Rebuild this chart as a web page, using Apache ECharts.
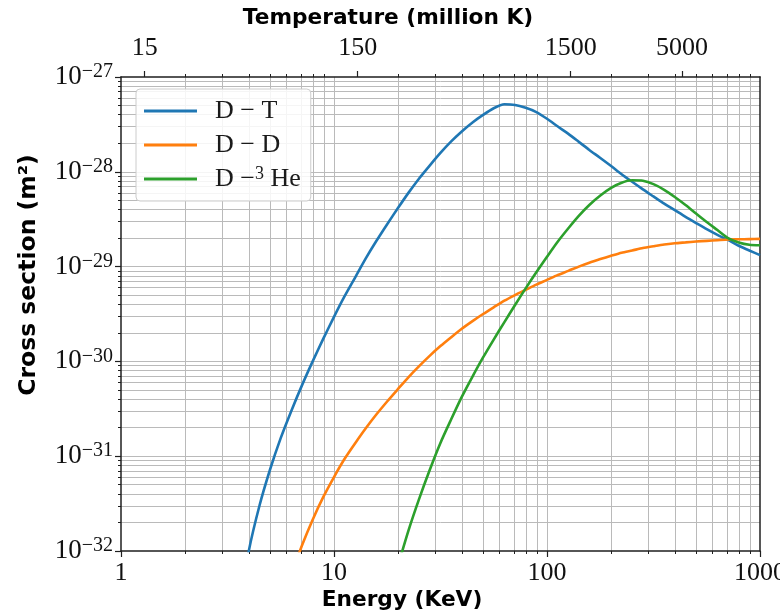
<!DOCTYPE html>
<html>
<head>
<meta charset="utf-8">
<script src="https://cdn.jsdelivr.net/npm/echarts@6/dist/echarts.min.js"></script>
<style>
html,body{margin:0;padding:0;background:#fff;}
#c{width:780px;height:614px;}
</style>
</head>
<body>
<div id="c"></div>
<script>
// ---------- data (energy in keV, cross section in m^2) ----------
const seriesNames = ['D-T', 'D-D', 'D-3He'];
const legendLabels = ['D − T', 'D − D', 'D −{s|3} He'];
const seriesColors = ['#1f77b4', '#ff7f0e', '#2ca02c'];

const energyDT = [3.55, 3.98, 4.47, 5.01, 5.62, 6.31, 7.08, 7.94, 8.91, 10, 11.2, 12.6, 14.1, 15.8, 17.8, 20, 22.4, 25.1, 28.2, 31.6, 35.5, 39.8, 44.7, 50.1, 56.2, 63.1, 70.8, 79.4, 89.1, 100, 112, 126, 141, 158, 178, 200, 224, 251, 282, 316, 355, 398, 447, 501, 562, 631, 708, 794, 891, 1000];
const sigmaDT  = [2.24e-33, 1.0e-32, 3.02e-32, 7.24e-32, 1.55e-31, 3.02e-31, 5.62e-31, 1.0e-30, 1.74e-30, 2.95e-30, 4.84e-30, 7.76e-30, 1.22e-29, 1.86e-29, 2.82e-29, 4.17e-29, 6.03e-29, 8.51e-29, 1.17e-28, 1.58e-28, 2.09e-28, 2.66e-28, 3.31e-28, 3.98e-28, 4.68e-28, 5.15e-28, 5.07e-28, 4.73e-28, 4.27e-28, 3.63e-28, 3.02e-28, 2.51e-28, 2.07e-28, 1.70e-28, 1.40e-28, 1.15e-28, 9.44e-29, 7.85e-29, 6.53e-29, 5.50e-29, 4.62e-29, 3.94e-29, 3.35e-29, 2.88e-29, 2.48e-29, 2.16e-29, 1.91e-29, 1.66e-29, 1.48e-29, 1.32e-29];

const energyDD = [6.31, 7.08, 7.94, 8.91, 10, 11.2, 12.6, 14.1, 15.8, 17.8, 20, 22.4, 25.1, 28.2, 31.6, 35.5, 39.8, 44.7, 50.1, 56.2, 63.1, 70.8, 79.4, 89.1, 100, 112, 126, 141, 158, 178, 200, 224, 251, 282, 316, 355, 398, 447, 501, 562, 631, 708, 794, 891, 1000];
const sigmaDD  = [5.62e-33, 1.15e-32, 2.14e-32, 3.72e-32, 6.03e-32, 9.33e-32, 1.38e-31, 1.97e-31, 2.75e-31, 3.80e-31, 5.13e-31, 6.84e-31, 8.91e-31, 1.15e-30, 1.45e-30, 1.80e-30, 2.21e-30, 2.66e-30, 3.16e-30, 3.72e-30, 4.37e-30, 5.01e-30, 5.69e-30, 6.46e-30, 7.24e-30, 8.13e-30, 9.02e-30, 1.0e-29, 1.10e-29, 1.20e-29, 1.30e-29, 1.40e-29, 1.48e-29, 1.57e-29, 1.64e-29, 1.71e-29, 1.76e-29, 1.80e-29, 1.84e-29, 1.87e-29, 1.90e-29, 1.93e-29, 1.94e-29, 1.95e-29, 1.96e-29];

const energyDHe3 = [20, 22.4, 25.1, 28.2, 31.6, 35.5, 39.8, 44.7, 50.1, 56.2, 63.1, 70.8, 79.4, 89.1, 100, 112, 126, 141, 158, 178, 200, 224, 251, 282, 316, 355, 398, 447, 501, 562, 631, 708, 794, 891, 1000];
const sigmaDHe3  = [7.08e-33, 1.66e-32, 3.55e-32, 7.24e-32, 1.38e-31, 2.45e-31, 4.22e-31, 6.92e-31, 1.10e-30, 1.70e-30, 2.60e-30, 3.94e-30, 5.89e-30, 8.71e-30, 1.27e-29, 1.82e-29, 2.54e-29, 3.43e-29, 4.47e-29, 5.62e-29, 6.76e-29, 7.67e-29, 8.13e-29, 8.04e-29, 7.41e-29, 6.46e-29, 5.43e-29, 4.47e-29, 3.63e-29, 2.95e-29, 2.43e-29, 2.0e-29, 1.80e-29, 1.70e-29, 1.68e-29];

// tick labels
const energyTickLabels = [1, 10, 100, 1000];          // keV
const temperatureTickLabels = [15, 150, 1500, 5000];  // million K
const sigmaTickExponents = [-32, -31, -30, -29, -28, -27];
const millionKPerKeV = 11.6045;

// ---------- helpers ----------
const L = Math.log10;
function decadeValues(lo, hi, ks) {
  const out = [];
  for (let n = lo; n < hi; n++) ks.forEach(k => out.push(n + L(k)));
  return out;
}
const xMajor = energyTickLabels.map(L);
const xAll = decadeValues(0, 3, [1,2,3,4,5,6,7,8,9]).concat([3]);
const xMinor = decadeValues(0, 3, [2,3,4,5,6,7,8,9]);
const xTop = temperatureTickLabels.map(t => L(t / millionKPerKeV));
const yMajor = sigmaTickExponents.slice();
const yAll = decadeValues(-32, -27, [1,2,3,4,5,6,7,8,9]).concat([-27]);

const AX = '#1f1f1f';
const GRIDC = '#bababa';
const SERIF = 'Liberation Serif';

function xAxisBase(pos, z) {
  return { type: 'value', position: pos, min: 0, max: 3, z: z,
    axisLine: { show: false, onZero: false }, axisTick: { show: false },
    axisLabel: { show: false }, splitLine: { show: false } };
}
function yAxisBase(pos, z) {
  return { type: 'value', position: pos, min: -32, max: -27, z: z,
    axisLine: { show: false, onZero: false }, axisTick: { show: false },
    axisLabel: { show: false }, splitLine: { show: false } };
}

// bottom: grid + minor ticks + labels
const xa0 = xAxisBase('bottom', 0);
xa0.axisTick = { show: true, customValues: xAll, length: 3, lineStyle: { color: AX, width: 1 } };
xa0.splitLine = { show: true, showMinLine: false, showMaxLine: false, lineStyle: { color: GRIDC, width: 1 } };
xa0.axisLabel = { show: true, customValues: xMajor, margin: 9, color: '#111', fontFamily: SERIF, fontSize: 26, lineHeight: 26,
  formatter: v => String(Math.round(Math.pow(10, v))) };
// bottom: major ticks + line
const xa1 = xAxisBase('bottom', 1);
xa1.axisLine = { show: true, onZero: false, lineStyle: { color: AX, width: 1.5 } };
xa1.axisTick = { show: true, customValues: xMajor, length: 6, lineStyle: { color: AX, width: 1.2 } };
// top: minor ticks + line
const xa2 = xAxisBase('top', 1);
xa2.axisLine = { show: true, onZero: false, lineStyle: { color: AX, width: 1.5 } };
xa2.axisTick = { show: true, customValues: xMinor, length: 3, lineStyle: { color: AX, width: 1 } };
// top: temperature ticks + labels
const xa3 = xAxisBase('top', 1);
xa3.axisTick = { show: true, customValues: xTop, length: 6, lineStyle: { color: AX, width: 1.2 } };
xa3.axisLabel = { show: true, customValues: xTop, margin: 16, color: '#111', fontFamily: SERIF, fontSize: 26, lineHeight: 26,
  formatter: v => String(Math.round(Math.pow(10, v) * millionKPerKeV)) };

// left: grid + minor ticks + labels
const ya0 = yAxisBase('left', 0);
ya0.axisTick = { show: true, customValues: yAll, length: 3, lineStyle: { color: AX, width: 1 } };
ya0.splitLine = { show: true, showMinLine: false, showMaxLine: false, lineStyle: { color: GRIDC, width: 1 } };
ya0.axisLabel = { show: true, customValues: yMajor, margin: 8, color: '#111',
  formatter: v => '{b|10}{s|−' + Math.abs(Math.round(v)) + '}',
  rich: {
    b: { fontFamily: SERIF, fontSize: 27, lineHeight: 30, color: '#111' },
    s: { fontFamily: SERIF, fontSize: 20, lineHeight: 16, verticalAlign: 'top', color: '#111' }
  } };
const ya1 = yAxisBase('left', 1);
ya1.axisLine = { show: true, onZero: false, lineStyle: { color: AX, width: 1.5 } };
ya1.axisTick = { show: true, customValues: yMajor, length: 6, lineStyle: { color: AX, width: 1.2 } };
const ya2 = yAxisBase('right', 1);
ya2.axisLine = { show: true, onZero: false, lineStyle: { color: AX, width: 1.5 } };

const energies = [energyDT, energyDD, energyDHe3];
const sigmas = [sigmaDT, sigmaDD, sigmaDHe3];

const series = seriesNames.map((name, i) => ({
  type: 'line', name: name, xAxisIndex: 0, yAxisIndex: 0,
  data: energies[i].map((e, j) => [L(e), L(sigmas[i][j])]),
  symbol: 'none', smooth: 0.25, clip: true, z: 3,
  lineStyle: { width: 2.6, color: seriesColors[i] },
  itemStyle: { color: seriesColors[i] }
}));

const chart = echarts.init(document.getElementById('c'), null, { renderer: 'canvas' });
chart.setOption({
  animation: false,
  backgroundColor: '#ffffff',
  grid: { left: 121, right: 20, top: 77, bottom: 63, containLabel: false, outerBoundsMode: 'none' },
  xAxis: [xa0, xa1, xa2, xa3],
  yAxis: [ya0, ya1, ya2],
  legend: {
    data: seriesNames, orient: 'vertical', left: 136, top: 89,
    icon: 'rect', itemWidth: 53, itemHeight: 3, itemGap: 6,
    padding: [8, 10, 8, 8],
    backgroundColor: 'rgba(255,255,255,0.85)', borderColor: '#cccccc', borderWidth: 1, borderRadius: 4,
    formatter: name => legendLabels[seriesNames.indexOf(name)],
    textStyle: {
      fontFamily: SERIF, fontSize: 26, lineHeight: 28, color: '#1a1a1a', padding: [0, 0, 0, 13],
      rich: { s: { fontFamily: SERIF, fontSize: 18, lineHeight: 14, verticalAlign: 'top', color: '#1a1a1a' } }
    }
  },
  graphic: [
    { type: 'text', x: 388, y: 18, style: { text: 'Temperature (million K)', font: 'bold 21.7px "DejaVu Sans"', fill: '#000', align: 'center', verticalAlign: 'middle' } },
    { type: 'text', x: 402, y: 600, style: { text: 'Energy (KeV)', font: 'bold 21.7px "DejaVu Sans"', fill: '#000', align: 'center', verticalAlign: 'middle' } },
    { type: 'text', x: 29, y: 275, rotation: Math.PI / 2, style: { text: 'Cross section (m²)', font: 'bold 23.5px "DejaVu Sans"', fill: '#000', align: 'center', verticalAlign: 'middle' } }
  ],
  series: series
});
</script>
</body>
</html>
